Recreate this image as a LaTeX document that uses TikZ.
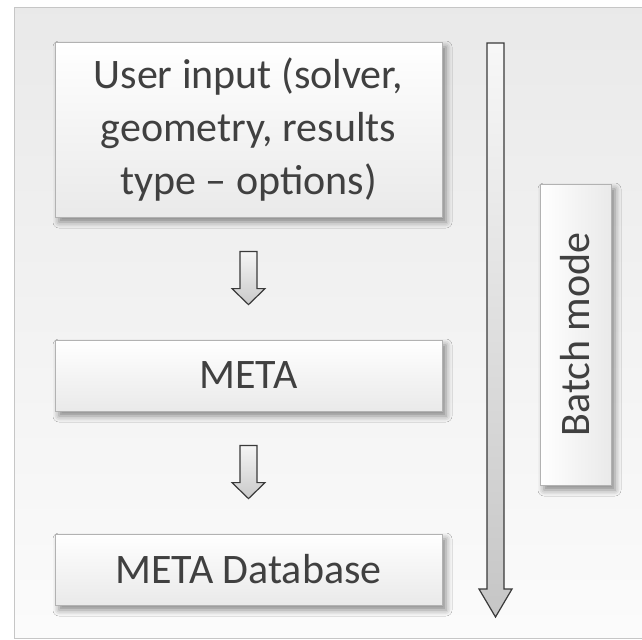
\documentclass[tikz,border=0pt]{standalone}
\usepackage{fontspec}
\setmainfont{Carlito}
\usetikzlibrary{positioning,calc,shadows.blur}
\definecolor{framegray}{HTML}{C6C6C6}
\definecolor{boxborder}{HTML}{B2B2B2}
\definecolor{textgray}{HTML}{404040}
\definecolor{arrowedge}{HTML}{3A3A3A}

\tikzset{
  boxbase/.style={draw=boxborder, inner sep=0pt, align=center, text=textgray,
    font=\fontsize{21}{26.5}\selectfont,
    blur shadow={shadow xshift=2pt, shadow yshift=-2.5pt, shadow blur radius=3pt, shadow opacity=45}},
  stepbox/.style={boxbase, top color=white, bottom color=gray!17, minimum width=193.5pt},
  sidebox/.style={boxbase, left color=white, right color=gray!17},
  flowarrow/.style={draw=arrowedge, line width=0.6pt, top color=gray!8, bottom color=gray!42},
}

\begin{document}
\begin{tikzpicture}[x=0.5pt,y=-0.5pt]
            \useasboundingbox (0,0) rectangle (642,639);
            % Frame
            \fill[top color=gray!17, bottom color=gray!3, draw=framegray] (14,7.5) rectangle (648,638.5);
            
            % Steps
            \node[stepbox, minimum height=87.5pt] (user) at (248.5,129.5) {User input (solver,\\geometry, results\\type -- options)};
            \node[stepbox, minimum height=35.5pt] (meta) at (248.5,375.5) {META};
            \node[stepbox, minimum height=35.5pt] (db) at (248.5,569.5) {META Database};
            
            % Step arrows
            \foreach \a/\b in {user/meta, meta/db}
              \draw[flowarrow] ($(\a.south)+(-8.5,34)$) -- ++(17,0) -- ($(\b.north)+(8.5,-51)$) -- ++(8,0)
                -- ($(\b.north)+(0,-35)$) -- ($(\b.north)+(-16.5,-51)$) -- ++(8,0) -- cycle;
            
            % Batch mode
            \coordinate (batchstart) at (495.5,43);
            \coordinate (batchend) at (495.5,617);
            \draw[flowarrow, top color=gray!6, bottom color=gray!45] ($(batchstart)+(-8.5,0)$) -- ++(17,0) -- ($(batchend)+(8.5,-28)$) -- ++(8,0)
              -- (batchend) -- ($(batchend)+(-16.5,-28)$) -- ++(8,0) -- cycle;
            \node[sidebox, minimum width=35.5pt, minimum height=150.5pt] (batch) at (575.5,334.5) {};
            \node[rotate=90, text=textgray, font=\fontsize{21}{26.5}\selectfont] (batchlabel) at (batch.center) {Batch mode};
        \end{tikzpicture}
\end{document}
